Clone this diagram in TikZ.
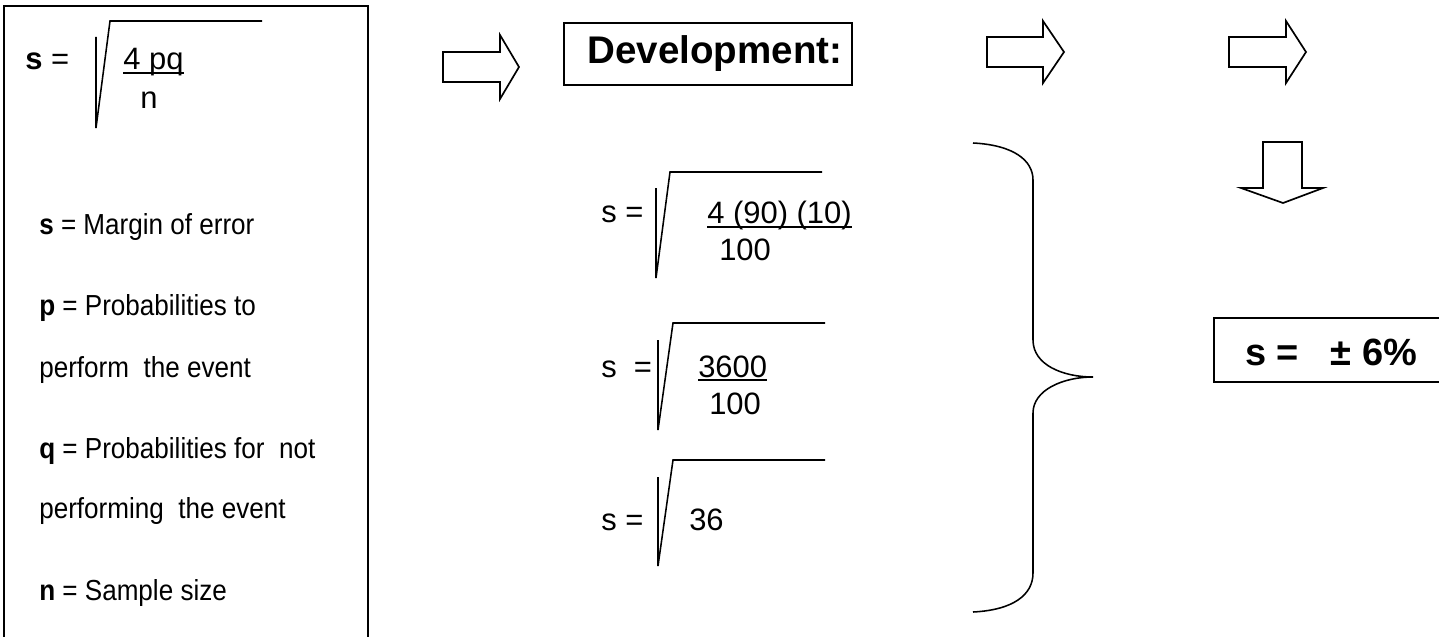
\documentclass[tikz,border=0pt]{standalone}
\usepackage{fontspec}
\setmainfont{Liberation Sans}
\newfontfamily\descfont[FakeStretch=0.9]{Liberation Sans}
\usepackage{tikz}
\usetikzlibrary{positioning}

\begin{document}
\begin{tikzpicture}[x=0.025cm, y=-0.025cm,
    desc/.style={anchor=base west, inner sep=0pt, font=\descfont\fontsize{20.6}{24}\selectfont},
    formula/.style={anchor=base west, inner sep=0pt, font=\fontsize{22}{26}\selectfont},
    heading/.style={inner sep=0pt, font=\fontsize{27}{32}\selectfont\bfseries},
    frame/.style={line width=1.4pt},
    blockarrow/.style={line width=1.2pt, line join=miter},
    radical/.style={line width=1.1pt}]

  \useasboundingbox (0,0) rectangle (1439,637);

  % Formula box
  \draw[frame] (4,637) -- (4,6) -- (368,6) -- (368,637);
  \node[formula] (f1s)   at (25,70)  {\textbf{s} =};
  \node[formula] (f1num) at (123,70) {4 pq};
  \node[formula, anchor=base] (f1den) at (149,108) {n};
  \draw[radical] (96,37) -- (96,128) -- (110,21) -- (262,21);
  \draw[radical] ([shift={(0,3)}]f1num.base west) -- ([shift={(0,3)}]f1num.base east);

  % Legend
  \node[desc] (sdesc)  at (39,234) {\textbf{s} = Margin of error};
  \node[desc] (pdesc)  at (39,315) {\textbf{p} = Probabilities to};
  \node[desc] (pdesc2) at (39,377) {perform~ the event};
  \node[desc] (qdesc)  at (39,458) {\textbf{q} = Probabilities for~ not};
  \node[desc] (qdesc2) at (39,518) {performing~ the event};
  \node[desc] (ndesc)  at (39,600) {\textbf{n} = Sample size};

  % Block arrows
  \draw[blockarrow] (443,52) -- (500,52) -- (500,35) -- (519,67) -- (500,99) -- (500,82) -- (443,82) -- cycle;
  \draw[blockarrow] (987,37) -- (1043,37) -- (1043,21) -- (1064,52) -- (1043,83) -- (1043,67) -- (987,67) -- cycle;
  \draw[blockarrow] (1229,37) -- (1286,37) -- (1286,21) -- (1306,52) -- (1286,83) -- (1286,67) -- (1229,67) -- cycle;
  \draw[blockarrow] (1263,142) -- (1302,142) -- (1302,188) -- (1323,188) -- (1283,203) -- (1241,188) -- (1263,188) -- cycle;

  % Development
  \node[draw, line width=1.2pt, minimum width=7.2cm, minimum height=1.55cm, heading,
        font=\fontsize{27.4}{32}\selectfont\bfseries] (dev) at (708,54) {\hspace*{0.35cm}Development:};

  \node[formula] (d1s)   at (601,222) {s =};
  \node[formula] (d1num) at (707,223) {4 (90) (10)};
  \node[formula] (d1den) at (719,260) {100};
  \draw[radical] (656,188) -- (656,278) -- (670,172) -- (822,172);
  \draw[radical] ([shift={(0,4)}]d1num.base west) -- ([shift={(0,4)}]d1num.base east);

  \node[formula] (d2s)   at (601,377) {s~ =};
  \node[formula] (d2num) at (698,377) {3600};
  \node[formula] (d2den) at (709,414) {100};
  \draw[radical] (658,340) -- (658,430) -- (673,323) -- (825,323);
  \draw[radical] ([shift={(0,3)}]d2num.base west) -- ([shift={(0,3)}]d2num.base east);

  \node[formula] (d3s)   at (601,530) {s =};
  \node[formula] (d3num) at (689,530) {36};
  \draw[radical] (658,477) -- (658,566) -- (673,460) -- (825,460);

  % Brace
  \draw[radical] (973,143) .. controls (1013,145) and (1033,160) .. (1033,180) -- (1033,340)
       .. controls (1033,365) and (1063,377) .. (1093,377)
       .. controls (1063,377) and (1033,390) .. (1033,413) -- (1033,573)
       .. controls (1033,595) and (1013,610) .. (973,612);

  % Result
  \node[heading, anchor=base] (res) at (1331,365) {s =\ \ \ ± 6\%};
  \draw[frame] (1439,318) -- (1214,318) -- (1214,382) -- (1439,382);
\end{tikzpicture}
\end{document}
